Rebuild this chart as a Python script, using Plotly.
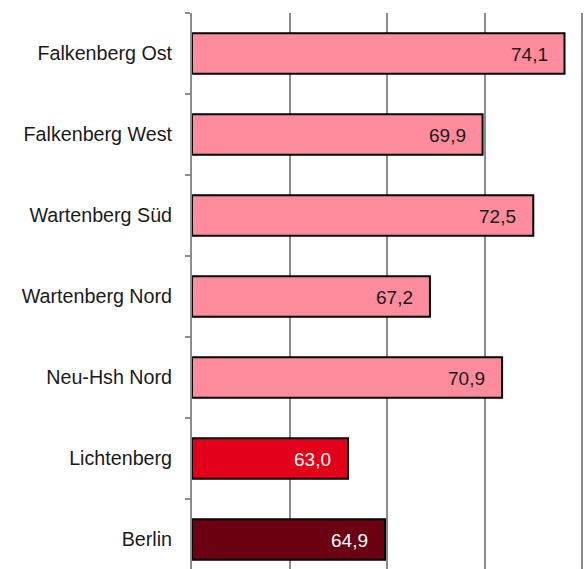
import plotly.graph_objects as go

categories = ["Falkenberg Ost", "Falkenberg West", "Wartenberg Süd", "Wartenberg Nord",
              "Neu-Hsh Nord", "Lichtenberg", "Berlin"]
values = [74.1, 69.9, 72.5, 67.2, 70.9, 63.0, 64.9]
bar_colors = ["#FF8C9C", "#FF8C9C", "#FF8C9C", "#FF8C9C", "#FF8C9C", "#E2001A", "#6B0012"]
label_colors = ["#1a1a1a", "#1a1a1a", "#1a1a1a", "#1a1a1a", "#1a1a1a", "#ffffff", "#ffffff"]
labels = [f"{v:.1f}".replace(".", ",") for v in values]
axis_start = 55

cats_bottom_up = categories[::-1]

fig = go.Figure()
fig.add_trace(go.Bar(
    y=categories, x=[v - axis_start for v in values], orientation="h",
    base=axis_start,
    marker=dict(color=bar_colors, line=dict(color="#000000", width=2)),
    width=0.5,
    hoverinfo="skip",
))

for c, v, t, col in zip(categories, values, labels, label_colors):
    fig.add_annotation(x=v, y=c, text=t, showarrow=False, xanchor="right",
                       xshift=-15, yshift=-1,
                       font=dict(family="Liberation Sans, Arial", size=19, color=col))

fig.update_layout(
    width=584, height=569,
    margin=dict(l=192, r=0, t=13, b=0),
    paper_bgcolor="white", plot_bgcolor="white",
    showlegend=False,
    font=dict(family="Liberation Sans, Arial", size=19.7, color="#1a1a1a"),
)
fig.update_xaxes(range=[55, 75.1], showgrid=True, gridcolor="#8c8c8c", gridwidth=2,
                 dtick=5, tick0=axis_start, showticklabels=False, zeroline=False, showline=False,
                 ticks="")
fig.update_yaxes(type="category", categoryorder="array", categoryarray=cats_bottom_up,
                 range=[-0.364, 6.5], showline=True, linecolor="#8c8c8c", linewidth=2,
                 ticks="outside", ticklen=5, tickcolor="#8c8c8c", tickwidth=2,
                 tickson="boundaries", showgrid=False, ticklabelstandoff=14)

fig.write_html("out.html", config={"displayModeBar": False},
               post_script="document.body.style.margin='0';document.body.style.overflow='hidden';")
